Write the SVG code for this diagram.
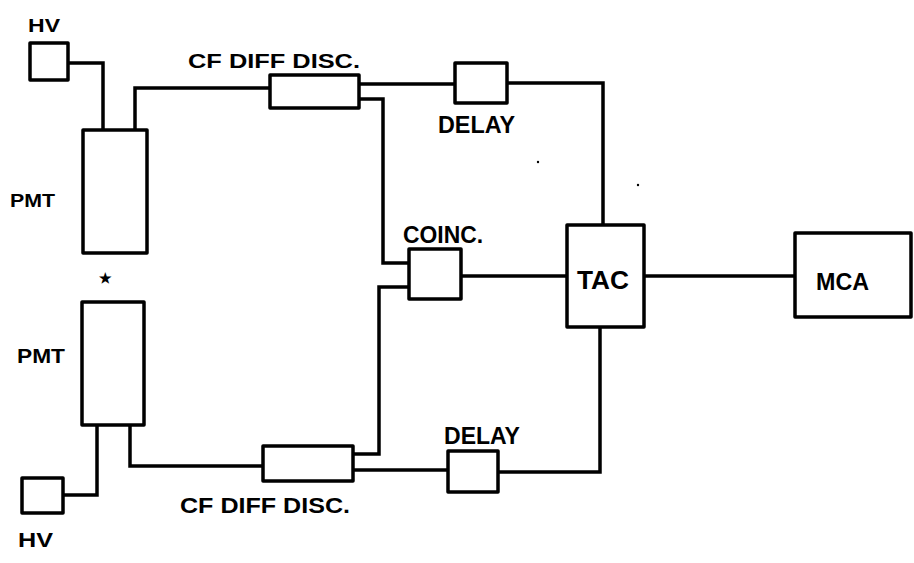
<svg xmlns="http://www.w3.org/2000/svg" width="914" height="563" viewBox="0 0 914 563">
<style>
.box{fill:#fff;stroke:#000;stroke-width:3.5;stroke-linejoin:round}
.wire{fill:none;stroke:#000;stroke-width:3.5;stroke-linejoin:miter}
.lbl{font-family:"Liberation Sans",Arial,sans-serif;font-weight:bold;fill:#000}
</style>
<rect width="914" height="563" fill="#fff"/>
<g id="connectors">
<path class="wire" d="M68,63 H103 V130"/>
<path class="wire" d="M135,130 V88 H270"/>
<path class="wire" d="M359,84 H455"/>
<path class="wire" d="M359,99 H383 V263 H409"/>
<path class="wire" d="M507,83 H603 V225"/>
<path class="wire" d="M461,276 H567"/>
<path class="wire" d="M644,276 H795"/>
<path class="wire" d="M409,287 H379 V454 H353"/>
<path class="wire" d="M353,470 H448"/>
<path class="wire" d="M498,472 H600 V327"/>
<path class="wire" d="M130,425 V466 H263"/>
<path class="wire" d="M97,425 V495 H63"/>
</g>
<g id="hv-top"><rect class="box" x="30" y="43" width="38" height="37"/><text class="lbl" x="28" y="32" font-size="19" textLength="32" lengthAdjust="spacingAndGlyphs">HV</text></g>
<g id="pmt-top"><rect class="box" x="83" y="130" width="64" height="123"/><text class="lbl" x="10" y="207" font-size="19" textLength="45" lengthAdjust="spacingAndGlyphs">PMT</text></g>
<g id="cf-top"><rect class="box" x="270" y="75" width="89" height="33"/><text class="lbl" x="188" y="68" font-size="21" textLength="172" lengthAdjust="spacingAndGlyphs">CF DIFF DISC.</text></g>
<g id="delay-top"><rect class="box" x="455" y="63" width="52" height="40"/><text class="lbl" x="438" y="133" font-size="23" textLength="77" lengthAdjust="spacingAndGlyphs">DELAY</text></g>
<g id="coinc"><rect class="box" x="409" y="249" width="52" height="50"/><text class="lbl" x="403" y="243" font-size="23" textLength="80" lengthAdjust="spacingAndGlyphs">COINC.</text></g>
<g id="tac"><rect class="box" x="567" y="225" width="77" height="102"/><text class="lbl" x="577" y="289" font-size="25" textLength="52" lengthAdjust="spacingAndGlyphs">TAC</text></g>
<g id="mca"><rect class="box" x="795" y="233" width="116" height="84"/><text class="lbl" x="816" y="290" font-size="24" textLength="53" lengthAdjust="spacingAndGlyphs">MCA</text></g>
<g id="source"><text class="lbl" x="105" y="283" font-size="14" text-anchor="middle" font-family="DejaVu Sans,sans-serif">★</text></g>
<g id="pmt-bottom"><rect class="box" x="82" y="302" width="62" height="123"/><text class="lbl" x="17" y="363" font-size="20" textLength="48" lengthAdjust="spacingAndGlyphs">PMT</text></g>
<g id="hv-bottom"><rect class="box" x="22" y="478" width="41" height="35"/><text class="lbl" x="18" y="547" font-size="20" textLength="35" lengthAdjust="spacingAndGlyphs">HV</text></g>
<g id="cf-bottom"><rect class="box" x="263" y="446" width="90" height="35"/><text class="lbl" x="180" y="513" font-size="22" textLength="170" lengthAdjust="spacingAndGlyphs">CF DIFF DISC.</text></g>
<g id="delay-bottom"><rect class="box" x="448" y="451" width="50" height="41"/><text class="lbl" x="444" y="444" font-size="23" textLength="76" lengthAdjust="spacingAndGlyphs">DELAY</text></g>
<g id="specks"><circle cx="538" cy="162" r="1.2" fill="#000"/><circle cx="638" cy="185" r="1.2" fill="#000"/></g>
</svg>
